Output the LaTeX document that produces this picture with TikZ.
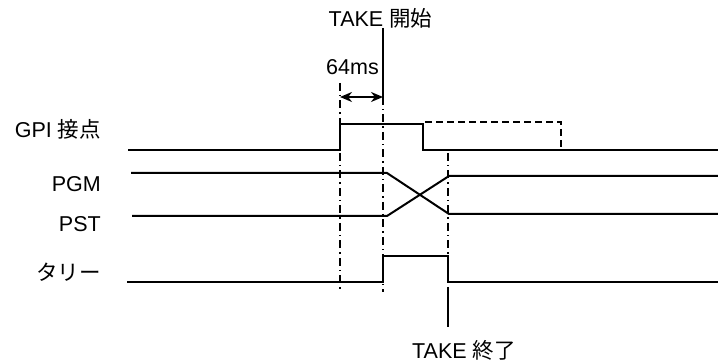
\documentclass[tikz,border=0pt]{standalone}
\usepackage{fontspec}
\setmainfont{Liberation Sans}
\newfontfamily\jp{Noto Sans CJK JP}
\usetikzlibrary{arrows.meta}

\begin{document}
\begin{tikzpicture}[x=1pt, y=-1pt, >={Stealth[length=12pt,width=10pt]},
  signal/.style={line width=2pt},
  guide/.style={line width=1.5pt, dash pattern=on 8pt off 4pt on 1.5pt off 4pt},
  lbl/.style={font=\fontsize{21.5}{26}\selectfont, inner sep=0pt}]
 \useasboundingbox (0,0) rectangle (718,363);
 % Nhãn tín hiệu
 \node[lbl, anchor=base east] (gpi) at (101,138) {GPI {\jp 接点}};
 \node[lbl, anchor=base east] (pgm) at (101,192) {PGM};
 \node[lbl, anchor=base east] (pst) at (101,232) {PST};
 \node[lbl, anchor=base east] (tally) at (101,281) {\jp タリー};
 \node[lbl, anchor=base] (takestart) at (380.5,27) {TAKE {\jp 開始}};
 \node[lbl, anchor=base west] (takeend) at (412,359) {TAKE {\jp 終了}};
 \node[lbl, anchor=base east] (delay) at (379,75) {64ms};
 % Đường gióng
 \draw[guide] (340,83) -- (340,292);
 \draw[guide] (383,97) -- (383,292);
 \draw[guide] (448,153) -- (448,282);
 \draw[line width=1.5pt] (383,28) -- (383,97);
 \draw[line width=1.5pt] (448,287) -- (448,327);
 \draw[<->, line width=2pt] (340,97) -- (383,97);
 % GPI
 \draw[signal] (128,150) -- (340,150) -- (340,124) -- (423,124) -- (423,150) -- (718,150);
 \draw[signal, dash pattern=on 7pt off 4pt] (425,122) -- (561,122) -- (561,147);
 % PGM / PST
 \draw[signal] (131,173) -- (387,173) -- (449,214) -- (718,214);
 \draw[signal] (132,216) -- (387,216) -- (449,176) -- (718,176);
 % Tally
 \draw[signal] (127,282) -- (383,282) -- (383,256) -- (448,256) -- (448,282) -- (718,282);
\end{tikzpicture}
\end{document}
